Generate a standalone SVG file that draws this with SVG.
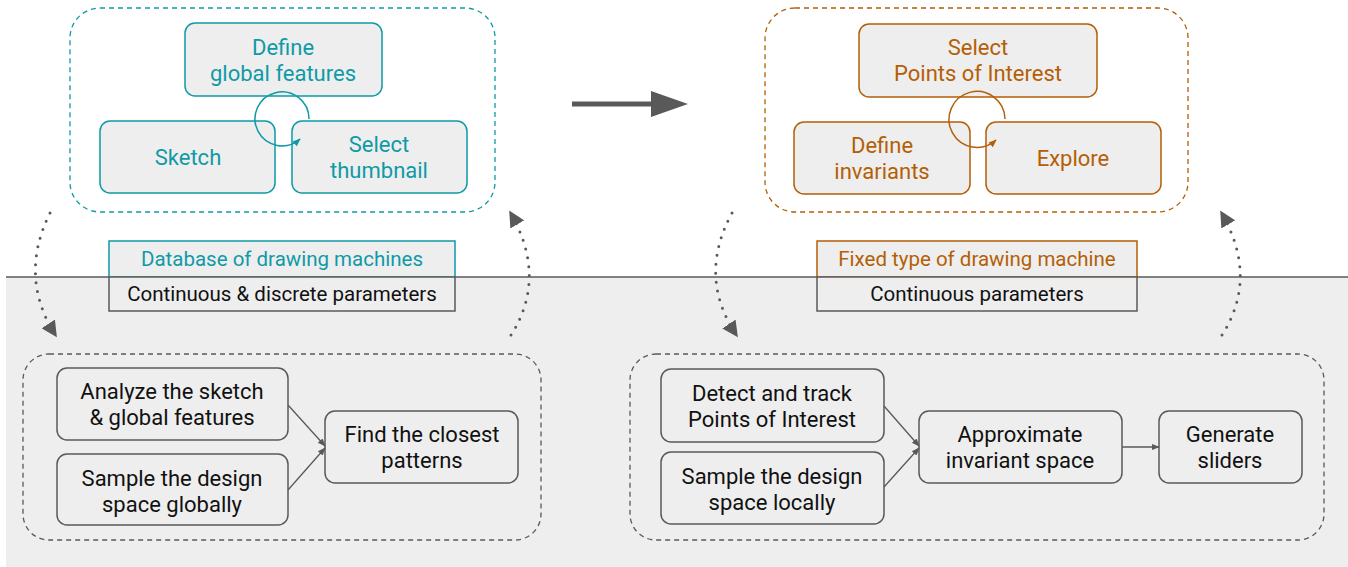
<svg xmlns="http://www.w3.org/2000/svg" width="1348" height="567" viewBox="0 0 1348 567">
<defs>
<style>
text{font-family:Roboto,"Liberation Sans",sans-serif;text-anchor:middle}
.t{fill:#0e9aa7;font-size:22px}
.o{fill:#b45f06;font-size:22px}
.k{fill:#111;font-size:22px}
.s{font-size:20.5px}
.bt{fill:#eeeeee;stroke:#0e9aa7;stroke-width:1.5}
.bo{fill:#eeeeee;stroke:#b45f06;stroke-width:1.5}
.bk{fill:#eeeeee;stroke:#595959;stroke-width:1.5}
.dash{fill:none;stroke-width:1.3;stroke-dasharray:5 4}
.dot{fill:none;stroke:#595959;stroke-width:3;stroke-linecap:round;stroke-dasharray:0 9}
.cn{fill:none;stroke:#595959;stroke-width:1.3}
</style>
<marker id="big" viewBox="0 0 10 10" refX="9" refY="5" markerWidth="16" markerHeight="16" markerUnits="userSpaceOnUse" orient="auto"><path d="M0,0 L10,5 L0,10z" fill="#595959"/></marker>
<marker id="sm" viewBox="0 0 10 10" refX="9" refY="5" markerWidth="8" markerHeight="8" markerUnits="userSpaceOnUse" orient="auto"><path d="M0,1 L10,5 L0,9z" fill="#595959"/></marker>
<marker id="smt" viewBox="0 0 10 10" refX="9" refY="5" markerWidth="8" markerHeight="8" markerUnits="userSpaceOnUse" orient="auto"><path d="M0,1 L10,5 L0,9z" fill="#0e9aa7"/></marker>
<marker id="smo" viewBox="0 0 10 10" refX="9" refY="5" markerWidth="8" markerHeight="8" markerUnits="userSpaceOnUse" orient="auto"><path d="M0,1 L10,5 L0,9z" fill="#b45f06"/></marker>
</defs>
<rect x="0" y="0" width="1348" height="567" fill="#ffffff"/>
<rect x="6" y="277" width="1342" height="290" fill="#eeeeee"/>
<line x1="6" y1="277" x2="1348" y2="277" stroke="#595959" stroke-width="1.5"/>

<g id="groupTopLeft">
<rect x="70" y="8" width="425" height="204" rx="30" class="dash" stroke="#0e9aa7"/>
</g>
<g id="groupTopRight">
<rect x="765" y="8" width="423" height="204" rx="30" class="dash" stroke="#b45f06"/>
</g>
<g id="groupBottomLeft">
<rect x="23" y="354" width="518" height="186" rx="26" class="dash" stroke="#595959"/>
</g>
<g id="groupBottomRight">
<rect x="630" y="354" width="694" height="186" rx="26" class="dash" stroke="#595959"/>
</g>

<g id="defineGlobal"><rect x="185" y="23" width="197" height="73" rx="10" class="bt"/><text class="t" x="283" y="55">Define</text><text class="t" x="283" y="81">global features</text></g>
<g id="sketch"><rect x="100" y="121" width="175" height="72" rx="10" class="bt"/><text class="t" x="188" y="165">Sketch</text></g>
<g id="selectThumb"><rect x="292" y="121" width="175" height="72" rx="10" class="bt"/><text class="t" x="379" y="152">Select</text><text class="t" x="379" y="178">thumbnail</text></g>

<g id="selectPOI"><rect x="859" y="24" width="238" height="73" rx="10" class="bo"/><text class="o" x="978" y="55">Select</text><text class="o" x="978" y="81">Points of Interest</text></g>
<g id="defineInv"><rect x="794" y="122" width="176" height="72" rx="10" class="bo"/><text class="o" x="882" y="153">Define</text><text class="o" x="882" y="179">invariants</text></g>
<g id="explore"><rect x="986" y="122" width="175" height="72" rx="10" class="bo"/><text class="o" x="1073" y="166">Explore</text></g>

<g id="database"><rect x="109" y="241" width="346" height="36" class="bt"/><text class="t s" x="282" y="266">Database of drawing machines</text></g>
<g id="contDisc"><rect x="109" y="277" width="346" height="34" class="bk"/><text class="k s" x="282" y="301">Continuous &amp; discrete parameters</text></g>
<g id="fixedType"><rect x="817" y="241" width="320" height="36" class="bo"/><text class="o s" x="977" y="266">Fixed type of drawing machine</text></g>
<g id="contParams"><rect x="817" y="277" width="320" height="34" class="bk"/><text class="k s" x="977" y="301">Continuous parameters</text></g>

<g id="analyze"><rect x="57" y="368" width="231" height="72" rx="10" class="bk"/><text class="k" x="172" y="399">Analyze the sketch</text><text class="k" x="172" y="425">&amp; global features</text></g>
<g id="sampleGlobal"><rect x="57" y="454" width="231" height="71" rx="10" class="bk"/><text class="k" x="172" y="486">Sample the design</text><text class="k" x="172" y="512">space globally</text></g>
<g id="findClosest"><rect x="325" y="411" width="193" height="72" rx="10" class="bk"/><text class="k" x="422" y="442">Find the closest</text><text class="k" x="422" y="468">patterns</text></g>

<g id="detect"><rect x="661" y="369" width="223" height="73" rx="10" class="bk"/><text class="k" x="772" y="401">Detect and track</text><text class="k" x="772" y="427">Points of Interest</text></g>
<g id="sampleLocal"><rect x="661" y="452" width="223" height="72" rx="10" class="bk"/><text class="k" x="772" y="484">Sample the design</text><text class="k" x="772" y="510">space locally</text></g>
<g id="approx"><rect x="919" y="411" width="203" height="72" rx="10" class="bk"/><text class="k" x="1020" y="442">Approximate</text><text class="k" x="1020" y="468">invariant space</text></g>
<g id="sliders"><rect x="1159" y="411" width="143" height="72" rx="10" class="bk"/><text class="k" x="1230" y="442">Generate</text><text class="k" x="1230" y="468">sliders</text></g>

<g id="connectors">
<path d="M309,119 A27,27 0 1 0 300,139" fill="none" stroke="#0e9aa7" stroke-width="1.5" marker-end="url(#smt)"/>
<path d="M1005,119 A28,28 0 1 0 996,140" fill="none" stroke="#b45f06" stroke-width="1.5" marker-end="url(#smo)"/>
<line x1="572" y1="104" x2="655" y2="104" stroke="#595959" stroke-width="5"/>
<polygon points="651,91 688,104 651,117" fill="#595959"/>
<path d="M50,213 Q18,277 56,336" class="dot" marker-end="url(#big)"/>
<path d="M511,335 Q548,277 510,212" class="dot" marker-end="url(#big)"/>
<path d="M732,213 Q697,277 737,336" class="dot" marker-end="url(#big)"/>
<path d="M1222,335 Q1259,277 1221,212" class="dot" marker-end="url(#big)"/>
<line x1="288" y1="405" x2="325" y2="446" class="cn" marker-end="url(#sm)"/>
<line x1="288" y1="490" x2="325" y2="448" class="cn" marker-end="url(#sm)"/>
<line x1="884" y1="406" x2="919" y2="446" class="cn" marker-end="url(#sm)"/>
<line x1="884" y1="487" x2="919" y2="448" class="cn" marker-end="url(#sm)"/>
<line x1="1122" y1="447" x2="1159" y2="447" class="cn" marker-end="url(#sm)"/>
</g>
</svg>
